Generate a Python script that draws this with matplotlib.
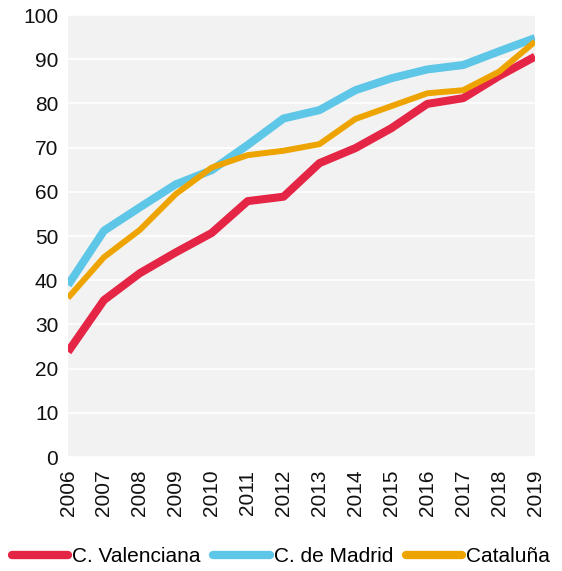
import matplotlib.pyplot as plt

plt.rcParams['font.family'] = ['Liberation Sans', 'DejaVu Sans']

years = [2006, 2007, 2008, 2009, 2010, 2011, 2012, 2013, 2014, 2015, 2016, 2017, 2018, 2019]
valenciana = [23.8, 35.5, 41.6, 46.3, 50.7, 57.9, 58.9, 66.5, 69.9, 74.4, 79.9, 81.2, 86.2, 90.6]
madrid = [38.9, 51.2, 56.5, 61.7, 64.9, 70.6, 76.6, 78.5, 83.0, 85.7, 87.7, 88.7, 91.8, 94.8]
cataluna = [36.0, 45.2, 51.4, 59.5, 65.5, 68.3, 69.3, 70.8, 76.5, 79.4, 82.3, 83.0, 87.2, 94.0]

fig = plt.figure(figsize=(5.62, 5.71), dpi=100)
ax = fig.add_axes([0.121, 0.1996, 0.831, 0.774])
ax.set_facecolor('#f2f2f2')

ax.plot(years, valenciana, color='#e42545', lw=5.8, label='C. Valenciana', solid_capstyle='butt')
ax.plot(years, madrid, color='#5ec6e6', lw=5.8, label='C. de Madrid', solid_capstyle='butt')
ax.plot(years, cataluna, color='#eea400', lw=4.3, label='Cataluña', solid_capstyle='butt')

ax.set_xlim(2006, 2019)
ax.set_ylim(0, 100)
ax.set_yticks(range(0, 101, 10))
ax.set_xticks(years)
ax.set_xticklabels([str(y) for y in years], rotation=90)
ax.tick_params(length=0, labelsize=15, colors='#111111')
ax.tick_params(axis='y', pad=7)
ax.tick_params(axis='x', pad=9)
ax.grid(axis='y', color='white', lw=1.2)
ax.set_axisbelow(True)
for s in ax.spines.values():
    s.set_visible(False)

leg = fig.legend(loc='center', bbox_to_anchor=(0.5, 0.025), ncol=3, frameon=False,
                 fontsize=15, handlelength=2.7, handletextpad=0.2, columnspacing=0.6)
for line in leg.get_lines():
    line.set_solid_capstyle('round')
    line.set_linewidth(6)

fig.savefig('out.png', dpi=100)
